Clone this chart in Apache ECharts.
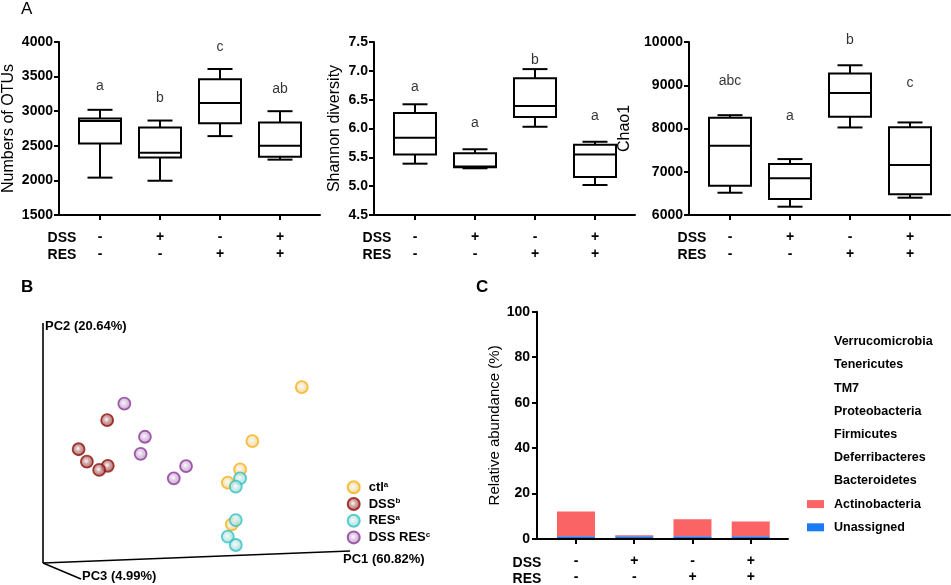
<!DOCTYPE html>
<html><head><meta charset="utf-8">
<script src="https://cdn.jsdelivr.net/npm/echarts@6/dist/echarts.min.js"></script>
<style>html,body{margin:0;padding:0;background:#fff}#c{width:951px;height:585px}</style>
</head><body><div id="c"></div>
<script>
// ---------- data ----------
const groups = [1, 2, 3, 4];
const dssSigns = ['-', '+', '-', '+'];
const resSigns = ['-', '-', '+', '+'];
// box stats: [low, q1, median, q3, high]
const otus = [[2040, 2535, 2860, 2895, 3020], [1995, 2330, 2400, 2765, 2865], [2640, 2825, 3120, 3460, 3610], [2300, 2340, 2500, 2835, 3000]];
const otusLetters = ['a', 'b', 'c', 'ab'];
const otusLetterY = [3364, 3191, 3928, 3321];
const shannon = [[5.39, 5.55, 5.84, 6.27, 6.42], [5.31, 5.33, 5.34, 5.57, 5.64], [6.03, 6.20, 6.39, 6.87, 7.03], [5.02, 5.16, 5.55, 5.72, 5.77]];
const shannonLetters = ['a', 'a', 'b', 'a'];
const shannonLetterY = [6.72, 6.09, 7.18, 6.21];
const chao1 = [[6515, 6677, 7600, 8246, 8308], [6192, 6370, 6847, 7177, 7293], [8024, 8269, 8823, 9270, 9462], [6400, 6478, 7154, 8031, 8140]];
const chao1Letters = ['abc', 'a', 'b', 'c'];
const chao1LetterY = [9093, 8285, 10039, 9047];

// PCoA projected coordinates (arbitrary units)
const pcCtl = [[84.3, 73.3], [68.2, 50.8], [64.2, 39.0], [60.2, 33.5], [61.5, 16.1]];
const pcDss = [[20.9, 59.5], [11.6, 47.4], [14.3, 42.2], [21.1, 40.5], [18.3, 38.8]];
const pcRes = [[64.2, 35.3], [62.8, 31.8], [62.8, 17.9], [60.2, 11.0], [62.8, 7.5]];
const pcDssRes = [[26.5, 66.4], [33.2, 52.6], [31.8, 45.5], [46.6, 40.4], [42.6, 35.3]];
const pcGroupNames = ['ctl', 'DSS', 'RES', 'DSS RES'];
const pcGroupSup = ['a', 'b', 'a', 'c'];

// relative abundance (%)
const phyla = ['Unassigned', 'Actinobacteria', 'Bacteroidetes', 'Deferribacteres', 'Firmicutes', 'Proteobacteria', 'TM7', 'Tenericutes', 'Verrucomicrobia'];
const unassigned = [1.2, 1.2, 1.2, 1.2];
const actinobacteria = [10.9, 0.5, 7.5, 6.5];
const bacteroidetes = [0, 0, 0, 0];
const deferribacteres = [0, 0, 0, 0];
const firmicutes = [0, 0, 0, 0];
const proteobacteria = [0, 0, 0, 0];
const tm7 = [0, 0, 0, 0];
const tenericutes = [0, 0, 0, 0];
const verrucomicrobia = [0, 0, 0, 0];
const phylaValues = [unassigned, actinobacteria, bacteroidetes, deferribacteres, firmicutes, proteobacteria, tm7, tenericutes, verrucomicrobia];
const phylaColors = ['#1A7CF2', '#FA6464', 'transparent', 'transparent', 'transparent', 'transparent', 'transparent', 'transparent', 'transparent'];

// ---------- helpers ----------
const FF = '"Liberation Sans", Arial, sans-serif';
const signFmt = v => { const i = Math.round(v) - 1; return (dssSigns[i] || '') + '\n' + (resSigns[i] || ''); };

function boxRender(params, api) {
  const x = api.value(0);
  const p = [1, 2, 3, 4, 5].map(i => api.coord([x, api.value(i)]));
  const cx = p[0][0], hw = 21, cw = 12.5;
  const st = { stroke: '#000', lineWidth: 2, fill: null };
  return { type: 'group', children: [
    { type: 'line', shape: { x1: cx, y1: p[0][1], x2: cx, y2: p[1][1] }, style: st },
    { type: 'line', shape: { x1: cx, y1: p[3][1], x2: cx, y2: p[4][1] }, style: st },
    { type: 'line', shape: { x1: cx - cw, y1: p[0][1], x2: cx + cw, y2: p[0][1] }, style: st },
    { type: 'line', shape: { x1: cx - cw, y1: p[4][1], x2: cx + cw, y2: p[4][1] }, style: st },
    { type: 'rect', shape: { x: cx - hw, y: p[3][1], width: 2 * hw, height: p[1][1] - p[3][1] }, style: { stroke: '#000', lineWidth: 2, fill: '#fff' } },
    { type: 'line', shape: { x1: cx - hw, y1: p[2][1], x2: cx + hw, y2: p[2][1] }, style: st }
  ] };
}
function stackBarRender(params, api) {
  const x = api.value(0), v = api.value(1), base = api.value(2);
  if (!v) return null;
  const p0 = api.coord([x, base]), p1 = api.coord([x, base + v]);
  return { type: 'rect', shape: { x: p0[0] - 19, y: p1[1], width: 38, height: p0[1] - p1[1] }, style: { fill: api.visual('color') } };
}

function boxX(idx) {
  return {
    type: 'value', gridIndex: idx, min: 0.3167, max: 4.6667,
    axisLine: { show: true, onZero: false, lineStyle: { color: '#000', width: 2 } },
    axisTick: { show: true, customValues: groups, length: 5, lineStyle: { color: '#000', width: 2 } },
    axisLabel: { show: true, customValues: groups, formatter: signFmt, margin: 14, lineHeight: 17, color: '#000', fontSize: 14, fontWeight: 'bold', fontFamily: FF },
    splitLine: { show: false }
  };
}
function boxY(idx, min, max, interval, name, nameGap, dec) {
  return {
    type: 'value', gridIndex: idx, min, max, interval,
    name, nameLocation: 'middle', nameRotate: 90, nameGap,
    nameTextStyle: { color: '#000', fontSize: 16, fontFamily: FF },
    axisLine: { show: true, lineStyle: { color: '#000', width: 2 } },
    axisTick: { show: true, length: 5, lineStyle: { color: '#000', width: 2 } },
    axisLabel: { margin: 6, color: '#000', fontSize: 14, fontWeight: 'bold', fontFamily: FF, formatter: v => dec ? v.toFixed(1) : String(v) },
    splitLine: { show: false }
  };
}
function boxSeries(idx, stats) {
  return { type: 'custom', xAxisIndex: idx, yAxisIndex: idx, renderItem: boxRender, encode: { x: 0, y: [1, 2, 3, 4, 5] },
    data: groups.map((g, i) => [g].concat(stats[i])), clip: false, z: 3 };
}
function letterSeries(idx, ys, letters) {
  return { type: 'scatter', xAxisIndex: idx, yAxisIndex: idx, symbolSize: 1, itemStyle: { color: 'transparent' }, clip: false, silent: true,
    data: groups.map((g, i) => [g, ys[i], letters[i]]),
    label: { show: true, position: 'inside', formatter: p => p.value[2], color: '#000', fontSize: 14, fontFamily: FF } };
}
function ball(mid, edge, border) {
  return { color: { type: 'radial', x: 0.45, y: 0.45, r: 0.6, colorStops: [{ offset: 0, color: '#f8f8f8' }, { offset: 0.35, color: mid }, { offset: 1, color: edge }] }, borderColor: border, borderWidth: 1.8 };
}

// ---------- option ----------
const pcStyles = {
  'ctl': ball('#F8E6BE', '#F2C970', '#F5B21A'),
  'DSS': ball('#C89494', '#9A3030', '#8E140E'),
  'RES': ball('#C8EAEA', '#86D2D2', '#34C2C2'),
  'DSS RES': ball('#DCC4E2', '#B486C0', '#8A3896')
};
const pcData = { 'ctl': pcCtl, 'DSS': pcDss, 'RES': pcRes, 'DSS RES': pcDssRes };
const pcOrder = ['DSS', 'DSS RES', 'ctl', 'RES'];

const barSeries = phyla.map((n, k) => ({
  name: n, type: 'custom', xAxisIndex: 4, yAxisIndex: 4, renderItem: stackBarRender,
  encode: { x: 0, y: 1 }, itemStyle: { color: phylaColors[k] }, z: 2,
  data: groups.map((g, i) => {
    let base = 0;
    for (let j = 0; j < k; j++) base += phylaValues[j][i];
    return [g, phylaValues[k][i], base];
  })
}));

const option = {
  animation: false,
  textStyle: { fontFamily: FF },
  grid: [
    { left: 59, top: 42, width: 261, height: 173 },
    { left: 374, top: 42, width: 261, height: 173 },
    { left: 689, top: 42, width: 261, height: 173 },
    { left: 43, top: 323, width: 307, height: 240 },
    { left: 537, top: 311.7, width: 251, height: 229.3 }
  ],
  xAxis: [boxX(0), boxX(1), boxX(2),
    { type: 'value', gridIndex: 3, min: 0, max: 100, show: false },
    { type: 'value', gridIndex: 4, min: 0.331, max: 4.64,
      axisLine: { show: true, onZero: false, lineStyle: { color: '#000', width: 2 } },
      axisTick: { show: true, customValues: groups, length: 5, lineStyle: { color: '#000', width: 2 } },
      axisLabel: { show: true, customValues: groups, formatter: signFmt, margin: 14.5, lineHeight: 15.7, color: '#000', fontSize: 14, fontWeight: 'bold', fontFamily: FF },
      splitLine: { show: false }, z: 5 }
  ],
  yAxis: [
    boxY(0, 1500, 4000, 500, 'Numbers of OTUs', 42, false),
    boxY(1, 4.5, 7.5, 0.5, 'Shannon diversity', 31, true),
    boxY(2, 6000, 10000, 1000, 'Chao1', 56, false),
    { type: 'value', gridIndex: 3, min: 0, max: 100, show: false },
    { type: 'value', gridIndex: 4, min: 0, max: 100, interval: 20,
      name: 'Relative abundance (%)', nameLocation: 'middle', nameRotate: 90, nameGap: 33,
      nameTextStyle: { color: '#000', fontSize: 15, fontFamily: FF },
      axisLine: { show: true, lineStyle: { color: '#000', width: 2 } },
      axisTick: { show: true, length: 5, lineStyle: { color: '#000', width: 2 } },
      axisLabel: { margin: 7, color: '#000', fontSize: 14, fontWeight: 'bold', fontFamily: FF },
      splitLine: { show: false } }
  ],
  legend: [
    { data: pcGroupNames, orient: 'vertical', left: 341.7, top: 475.3, itemWidth: 12, itemHeight: 12, itemGap: 2.7, icon: 'circle', selectedMode: false,
      formatter: name => name + '{s|' + pcGroupSup[pcGroupNames.indexOf(name)] + '}',
      textStyle: { color: '#000', fontSize: 13, fontWeight: 'bold', fontFamily: FF, lineHeight: 14, padding: [0, 0, 0, 4],
        rich: { s: { fontSize: 8, fontWeight: 'bold', color: '#000', verticalAlign: 'top', lineHeight: 14, padding: [0, 0, 6, 0] } } } },
    { data: phyla.slice().reverse(), orient: 'vertical', left: 802, top: 329.7, itemWidth: 17, itemHeight: 8, itemGap: 9.2, icon: 'rect', selectedMode: false,
      textStyle: { color: '#000', fontSize: 12.5, fontWeight: 'bold', fontFamily: FF, lineHeight: 14, padding: [0, 0, 0, 5] } }
  ],
  series: [
    boxSeries(0, otus), letterSeries(0, otusLetterY, otusLetters),
    boxSeries(1, shannon), letterSeries(1, shannonLetterY, shannonLetters),
    boxSeries(2, chao1), letterSeries(2, chao1LetterY, chao1Letters)
  ].concat(pcOrder.map(n => ({
    name: n, type: 'scatter', xAxisIndex: 3, yAxisIndex: 3, symbol: 'circle', symbolSize: 12, data: pcData[n], itemStyle: pcStyles[n], z: 4
  }))).concat(barSeries),
  graphic: [
    { type: 'text', left: 21, top: 1, style: { text: 'A', font: '17px ' + FF, fill: '#000' } },
    { type: 'text', left: 21, top: 279, style: { text: 'B', font: 'bold 17px ' + FF, fill: '#000' } },
    { type: 'text', left: 476, top: 279, style: { text: 'C', font: 'bold 17px ' + FF, fill: '#000' } },
    ...[[62, 238, 'DSS'], [62, 255, 'RES'], [377, 238, 'DSS'], [377, 255, 'RES'], [692, 238, 'DSS'], [692, 255, 'RES'], [527, 563.3, 'DSS'], [527, 579, 'RES']]
      .map(t => ({ type: 'text', x: t[0], y: t[1], style: { text: t[2], font: 'bold 14px ' + FF, fill: '#000', align: 'center', verticalAlign: 'middle' } })),
    { type: 'line', shape: { x1: 43, y1: 323, x2: 43, y2: 563 }, style: { stroke: '#000', lineWidth: 1.6 } },
    { type: 'line', shape: { x1: 43, y1: 563, x2: 350, y2: 551 }, style: { stroke: '#000', lineWidth: 1.6 } },
    { type: 'line', shape: { x1: 43, y1: 563, x2: 81, y2: 579 }, style: { stroke: '#000', lineWidth: 1.6 } },
    { type: 'text', x: 45, y: 326, style: { text: 'PC2 (20.64%)', font: 'bold 13px ' + FF, fill: '#000', verticalAlign: 'middle' } },
    { type: 'text', x: 343, y: 559, style: { text: 'PC1 (60.82%)', font: 'bold 13px ' + FF, fill: '#000', verticalAlign: 'middle' } },
    { type: 'text', x: 82, y: 576, style: { text: 'PC3 (4.99%)', font: 'bold 13px ' + FF, fill: '#000', verticalAlign: 'middle' } }
  ]
};
const chart = echarts.init(document.getElementById('c'), null, { renderer: 'canvas' });
chart.setOption(option);
</script></body></html>
